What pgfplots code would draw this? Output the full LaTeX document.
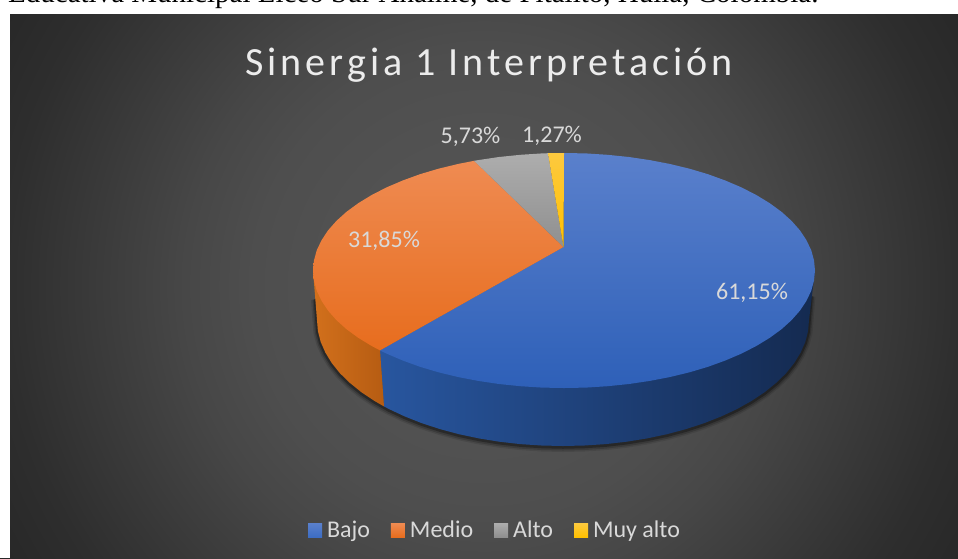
\documentclass[border=0pt]{standalone}
\usepackage{fontspec}
\usepackage{pgfplots}
\usepackage{pgfplotstable}
\pgfplotsset{compat=1.18}
\setmainfont{Carlito}
\newfontfamily\titlefont[LetterSpace=10]{Carlito}
\newfontfamily\docfont{Liberation Serif}

\definecolor{labeltext}{RGB}{217,217,217}
\definecolor{titletext}{RGB}{236,236,236}
\definecolor{bajotop}{HTML}{5A80CC}
\definecolor{bajomid}{HTML}{3D6DC3}
\definecolor{bajobot}{HTML}{2E60B8}
\definecolor{mediotop}{HTML}{EF8B52}
\definecolor{mediomid}{HTML}{F17A2E}
\definecolor{mediobot}{HTML}{E76D1E}
\definecolor{altotop}{HTML}{ADADAD}
\definecolor{altobot}{HTML}{8F8F8F}
\definecolor{muytop}{HTML}{FDC93F}
\definecolor{muybot}{HTML}{FFC000}
\definecolor{sidea}{HTML}{28569F}
\definecolor{sideb}{HTML}{1A3567}
\definecolor{sidec}{HTML}{142A50}
\definecolor{sided}{HTML}{D2701C}
\definecolor{sidee}{HTML}{B65C12}

% the path's box maps onto the middle 50bp of the shading
\pgfdeclareradialshading{panelbg}{\pgfpointorigin}{%
  color(0bp)=(rgb:black,0.655;white,0.345);
  color(10.3bp)=(rgb:black,0.694;white,0.306);
  color(13.4bp)=(rgb:black,0.722;white,0.278);
  color(18.75bp)=(rgb:black,0.788;white,0.212);
  color(21.4bp)=(rgb:black,0.820;white,0.180);
  color(25bp)=(rgb:black,0.847;white,0.153);
  color(50bp)=(rgb:black,0.847;white,0.153)}

% slices, in picture pixels (y runs down)
\pgfplotstableread{
x y
563.5 247.0
564.0 153.0
585.9 153.4
607.6 154.8
629.0 157.0
649.8 160.1
670.1 164.0
689.5 168.7
708.0 174.2
725.3 180.5
741.5 187.4
756.3 195.0
769.6 203.1
781.4 211.7
791.5 220.8
799.9 230.3
806.4 240.1
811.2 250.1
814.0 260.3
815.0 270.5
814.0 280.7
811.2 290.9
806.4 300.9
799.9 310.7
791.5 320.2
781.4 329.3
769.6 337.9
756.3 346.0
741.5 353.6
725.3 360.5
708.0 366.8
689.5 372.3
670.1 377.0
649.8 380.9
629.0 384.0
607.6 386.2
585.9 387.6
564.0 388.0
542.1 387.6
520.4 386.2
499.0 384.0
478.2 380.9
457.9 377.0
438.5 372.3
420.0 366.8
402.7 360.5
386.5 353.6
380.0 350.4
}\topBajo
\pgfplotstableread{
x y
563.5 247.0
380.0 350.4
371.7 346.0
358.4 337.9
346.6 329.3
336.5 320.2
328.1 310.7
321.6 300.9
316.8 290.9
314.0 280.7
313.0 270.5
314.0 260.3
316.8 250.1
321.6 240.1
328.1 230.3
336.5 220.8
346.6 211.7
358.4 203.1
371.7 195.0
386.5 187.4
402.7 180.5
420.0 174.2
438.5 168.7
457.9 164.0
474.0 160.8
}\topMedio
\pgfplotstableread{
x y
563.5 247.0
474.0 160.8
478.2 160.1
499.0 157.0
520.4 154.8
542.1 153.4
548.0 153.2
}\topAlto
\pgfplotstableread{
x y
563.5 247.0
548.0 153.2
564.0 153.0
}\topMuy
\pgfplotstableread{
x y
815.0 270.5
809.0 320.0
808.1 331.0
805.3 341.9
800.6 352.6
794.2 363.1
786.0 373.3
776.0 383.0
764.5 392.3
751.4 401.0
736.9 409.1
721.1 416.5
704.1 423.2
686.0 429.1
667.0 434.2
647.1 438.4
626.7 441.7
605.7 444.1
584.4 445.5
563.0 446.0
541.6 445.5
520.3 444.1
499.3 441.7
478.9 438.4
459.0 434.2
440.0 429.1
421.9 423.2
404.9 416.5
389.1 409.1
384.0 406.4
380.0 350.4
}\sideBajo
\pgfplotstableread{
x y
313.0 270.5
317.0 320.0
317.9 331.0
320.7 341.9
325.4 352.6
331.8 363.1
340.0 373.3
350.0 383.0
361.5 392.3
374.6 401.0
384.0 406.4
380.0 350.4
}\sideMedio
% outline of the base, for the soft shadow
\pgfplotstableread{
x y
811.0 295.0
809.0 320.0
808.1 331.0
805.3 341.9
800.6 352.6
794.2 363.1
786.0 373.3
776.0 383.0
764.5 392.3
751.4 401.0
736.9 409.1
721.1 416.5
704.1 423.2
686.0 429.1
667.0 434.2
647.1 438.4
626.7 441.7
605.7 444.1
584.4 445.5
563.0 446.0
541.6 445.5
520.3 444.1
499.3 441.7
478.9 438.4
459.0 434.2
440.0 429.1
421.9 423.2
404.9 416.5
389.1 409.1
374.6 401.0
361.5 392.3
350.0 383.0
340.0 373.3
331.8 363.1
325.4 352.6
320.7 341.9
317.9 331.0
317.0 320.0
315.5 298.0
}\baseOutline

\begin{document}
\begin{tikzpicture}
\useasboundingbox (0,0) rectangle (958pt,558pt);
\begin{axis}[at={(0,0)},anchor=south west,
  scale only axis,width=958pt,height=558pt,
  xmin=0,xmax=958,ymin=0,ymax=558,y dir=reverse,
  hide axis,
  legend columns=4,
  legend cell align=left,
  legend image code/.code={\path[#1,draw=none] (0pt,-7pt) rectangle (14pt,7pt);},
  legend style={at={(axis cs:495,530)},anchor=center,draw=none,fill=none,
    text=labeltext,font=\fontsize{24}{28}\selectfont,inner sep=0pt,
    /tikz/column 1/.style={column sep=3pt},
    /tikz/column 3/.style={column sep=3pt},
    /tikz/column 5/.style={column sep=3pt},
    /tikz/column 7/.style={column sep=3pt},
    /tikz/column 2/.style={column sep=19pt},
    /tikz/column 4/.style={column sep=19pt},
    /tikz/column 6/.style={column sep=19pt}}]

% panel and the white page round it
\addplot[forget plot,draw=none,shade,shading=panelbg] coordinates
  {(-76,-274)(1044,-274)(1044,846)(-76,846)} -- cycle;
\addplot[forget plot,draw=none,fill=white] coordinates
  {(0,0)(958,0)(958,14)(0,14)} -- cycle;
\addplot[forget plot,draw=none,fill=white] coordinates
  {(0,0)(10,0)(10,558)(0,558)} -- cycle;

% shadow
\addplot[forget plot,black,opacity=0.10,line width=9pt,yshift=-1.5pt] table {\baseOutline};
\addplot[forget plot,black,opacity=0.18,line width=6pt,yshift=-1.5pt] table {\baseOutline};
\addplot[forget plot,black,opacity=0.30,line width=3.5pt,yshift=-1pt] table {\baseOutline};

% sides
\addplot[forget plot,draw=none,left color=sidea,middle color=sideb,right color=sidec]
  table {\sideBajo} -- cycle;
\addplot[forget plot,draw=none,left color=sided,right color=sidee]
  table {\sideMedio} -- cycle;

% top faces
\addplot[forget plot,draw=none,top color=bajotop,middle color=bajomid,bottom color=bajobot]
  table {\topBajo} -- cycle;
\addplot[forget plot,draw=none,top color=mediotop,middle color=mediomid,bottom color=mediobot]
  table {\topMedio} -- cycle;
\addplot[forget plot,draw=none,top color=altotop,bottom color=altobot]
  table {\topAlto} -- cycle;
\addplot[forget plot,draw=none,top color=muytop,bottom color=muybot]
  table {\topMuy} -- cycle;

\addlegendimage{top color=bajotop,bottom color=bajomid}
\addlegendentry{Bajo}
\addlegendimage{top color=mediotop,bottom color=mediobot}
\addlegendentry{Medio}
\addlegendimage{top color=altotop,bottom color=altobot}
\addlegendentry{Alto}
\addlegendimage{top color=muytop,bottom color=muybot}
\addlegendentry{Muy alto}

\node[anchor=base,text=titletext,inner sep=0pt,font=\titlefont\fontsize{40}{46}\selectfont]
  at (axis cs:489,75) {Sinergia 1 Interpretación};
\node[anchor=base,text=labeltext,inner sep=0pt,font=\fontsize{24}{28}\selectfont]
  at (axis cs:752,299.5) {61,15\%};
\node[anchor=base,text=labeltext,inner sep=0pt,font=\fontsize{24}{28}\selectfont]
  at (axis cs:384,247) {31,85\%};
\node[anchor=base,text=labeltext,inner sep=0pt,font=\fontsize{24}{28}\selectfont]
  at (axis cs:470.5,143) {5,73\%};
\node[anchor=base,text=labeltext,inner sep=0pt,font=\fontsize{24}{28}\selectfont]
  at (axis cs:552,142.5) {1,27\%};
\node[anchor=base west,text=black,inner sep=0pt,font=\docfont\fontsize{29}{32}\selectfont]
  at (axis cs:8,2) {Educativa Municipal Liceo Sur Anaime, de Pitalito, Huila, Colombia.};
\end{axis}
\end{tikzpicture}
\end{document}
